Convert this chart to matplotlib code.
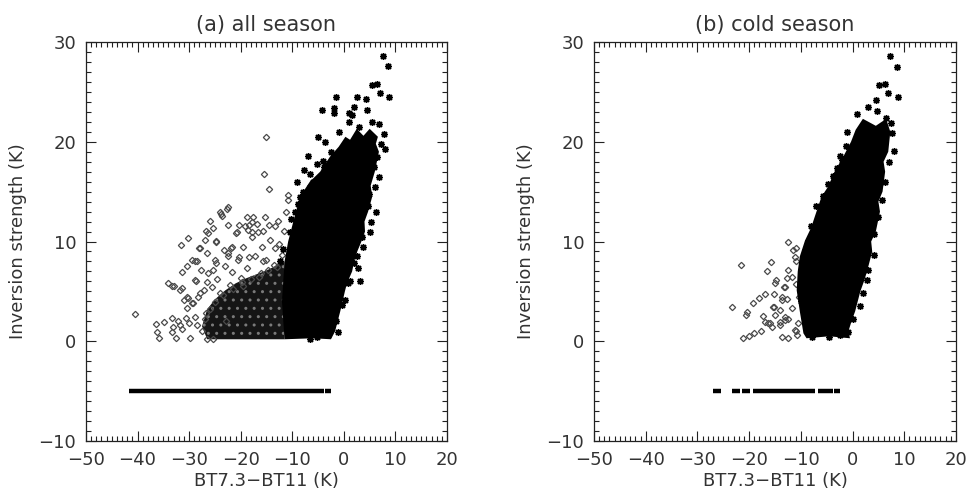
import matplotlib

matplotlib.use("Agg")

import matplotlib.pyplot as plt
from matplotlib.ticker import MultipleLocator


# -------------------------------------------------------------------------
# Data
# -------------------------------------------------------------------------

# (a) all season : open diamonds (sparse part, left)
a_diam_x = [
    -40.5, -36.4, -36.2, -35.8, -34.8, -33.4, -33.2, -33.4, -32.5, -32.1,
    -31.8, -31.4, -30.6, -30.0, -29.8, -30.4, -29.5, -30.2, -28.9, -28.5,
    -31.0, -30.2, -31.6, -29.5, -28.5, -31.4, -30.4, -34.0, -32.9, -28.7,
    -31.8, -15.0, -15.4, -14.6, -22.7, -24.0, -23.6, -26.0, -26.7, -25.3,
    -20.8, -19.2, -17.9, -18.8, -17.8, -15.7, -15.3, -14.5, -24.8, -23.2,
    -21.7, -28.0, -19.5, -15.9, -26.6, -24.7, -22.4, -20.3, -17.2, -15.0,
    -28.9, -25.3, -21.7, -18.8, -26.6, -31.4, -30.5, -29.2, -27.9, -33.3,
    -10.9, -10.8, -22.4, -23.8, -17.6, -18.4, -12.7, -11.3, -13.3, -22.4,
    -20.3, -18.5, -16.9, -21.0, -17.9, -16.6, -14.3, -11.7, -26.3, -26.9,
    -27.9, -24.7, -21.9, -13.4, -22.4, -25.0, -20.5, -18.3, -15.6, -28.9,
    -27.6, -26.3, -25.6, -27.2, -28.2, -26.5, -25.4, -27.5, -27.0, -26.0,
    -24.0, -22.0, -20.0, -16.0, -13.0, -12.0, -12.5, -24.5, -23.0, -19.5,
    -25.0, -23.5, -21.5, -19.8, -18.0, -16.5, -14.8, -13.5, -26.8, -22.8,
]
a_diam_y = [
    2.7, 1.7, 0.9, 0.3, 1.9, 2.3, 1.4, 0.9, 0.3, 2.0,
    1.6, 1.2, 2.3, 1.8, 0.3, 3.3, 3.8, 4.3, 2.4, 1.6,
    4.1, 10.4, 9.7, 8.1, 8.0, 6.9, 7.5, 5.8, 5.5, 6.0,
    5.1, 20.5, 16.8, 15.3, 13.3, 13.0, 12.6, 12.1, 11.1, 11.4,
    11.0, 11.6, 12.0, 12.5, 11.0, 11.1, 12.5, 11.7, 10.1, 9.1,
    9.5, 9.3, 9.5, 9.5, 8.8, 7.8, 8.5, 8.4, 8.5, 8.1,
    6.1, 7.1, 6.9, 7.3, 5.9, 5.3, 4.4, 3.8, 4.8, 5.5,
    14.7, 14.2, 13.5, 12.8, 12.5, 11.7, 12.1, 13.0, 11.6, 11.7,
    11.7, 11.2, 11.8, 10.9, 10.5, 11.0, 10.2, 11.1, 10.9, 10.2,
    9.3, 10.0, 9.3, 9.3, 8.8, 8.1, 8.1, 8.4, 8.0, 8.0,
    7.1, 6.8, 5.4, 5.1, 4.4, 0.2, 0.2, 1.0, 2.2, 3.2,
    4.8, 5.6, 6.3, 6.8, 7.4, 8.6, 9.8, 6.2, 7.5, 5.5,
    3.9, 4.6, 5.2, 5.9, 6.2, 6.4, 7.1, 7.6, 2.8, 2.0,
]

# (a) filled asterisks around the dense cloud
a_star_x = [
    7.5, 8.6, 5.4, 6.4, 7.0, 8.8, 2.5, 4.3, -1.6, -1.9,
    -1.9, -4.2, 0.9, 4.4, 0.9, -5.0, -3.7, 8.0, 7.7, -4.0,
    -3.8, -5.3, -7.7, -6.6, -5.9, -7.9, -8.5, 3.8, 2.5, 2.8,
    3.1, 0.2, -1.1, -6.6, 4.7, 6.0, 5.8, 6.9, 3.0, 5.5,
    -9.5, -10.5, 1.2, 5.3, 6.5, 2.0, -2.5, -1.0, -6.5, 7.2,
    6.8, 5.0, 3.6, 1.9, 0.8, -0.3, -1.5, -3.0, -5.2, -8.8,
    -10.2, -11.8, -12.4, -9.0, -7.0, 1.5, 4.0, 6.2, 4.9,
]
a_star_y = [
    28.6, 27.6, 25.7, 25.8, 24.9, 24.5, 24.5, 24.3, 24.5, 23.4,
    22.9, 23.2, 22.9, 23.2, 22.0, 20.5, 20.0, 19.3, 20.8, 18.1,
    17.5, 17.8, 17.2, 16.8, 16.0, 15.0, 14.5, 9.5, 8.5, 7.3,
    6.0, 4.1, 0.9, 0.2, 13.6, 15.5, 17.5, 21.8, 21.5, 22.0,
    13.0, 11.0, 6.0, 12.0, 18.5, 23.5, 19.0, 21.0, 15.5, 19.8,
    16.5, 11.0, 10.5, 7.8, 5.8, 3.6, 2.0, 0.6, 0.4, 13.8,
    12.3, 9.2, 8.0, 16.0, 18.6, 22.7, 20.3, 13.0, 14.8,
]

# (a) outline of the solid black core and of the mottled region
a_core_x = [-11.5, -6.0, -2.5, -1.7, -1.2, -0.7, 0.2, 0.6, 1.6, 2.0, 2.6, 3.4,
            4.1, 4.0, 4.7, 5.5, 5.2, 6.0, 6.8, 6.2, 6.6, 5.0, 3.8, 2.5, 1.2,
            0.3, -1.0, -2.7, -4.6, -6.6, -8.5, -9.8, -10.3, -10.8,
            -11.5, -12.0]
a_core_y = [0.2, 0.3, 0.2, 1.0, 2.0, 3.0, 5.0, 5.8, 7.0, 8.0, 9.0, 10.0,
            11.0, 12.0, 13.0, 14.5, 15.6, 17.0, 19.0, 19.8, 20.5, 21.3, 20.6, 21.3, 20.2,
            20.5, 19.5, 18.5, 17.0, 16.0, 14.5, 12.0, 11.0, 10.0,
            8.0, 4.0]
a_mix_x = [-26.5, -11.5, -11.5, -13.0, -15.0, -17.0, -19.0, -21.0, -23.0,
           -25.0, -26.5, -27.5]
a_mix_y = [0.2, 0.2, 8.0, 7.6, 7.1, 6.7, 6.3, 5.8, 5.1,
           4.2, 3.2, 1.5]

# (a) row of squares at -5 K (no inversion cases)
a_bar_start = [-41.6, -3.6]
a_bar_end = [-3.8, -2.5]

# (b) cold season : open diamonds
b_diam_x = [
    -21.6, -15.8, -16.6, -12.4, -23.4, -20.5, -20.6, -19.2, -18.0, -16.9,
    -21.1, -20.0, -19.1, -17.7, -17.3, -16.3, -15.6, -15.4, -15.0, -14.0,
    -13.7, -12.4, -14.8, -13.7, -13.1, -12.4, -11.8, -11.5, -11.0, -11.1,
    -13.1, -12.5, -11.1, -10.8, -11.7, -15.1, -15.0, -13.7, -13.3, -12.6,
    -10.9, -17.0, -16.0, -14.0, -13.1, -11.0, -10.5, -15.2, -14.0, -12.6,
    -10.3, -10.9,
]
b_diam_y = [
    7.6, 7.9, 7.0, 10.0, 3.4, 2.9, 2.6, 3.8, 4.3, 4.7,
    0.3, 0.5, 0.8, 1.0, 2.5, 1.8, 1.4, 3.4, 2.6, 1.9,
    0.4, 0.3, 6.1, 4.4, 5.4, 7.1, 6.4, 9.1, 9.3, 8.4,
    2.4, 2.2, 1.1, 0.6, 3.3, 4.7, 5.8, 4.1, 5.4, 6.3,
    8.0, 1.9, 1.8, 1.6, 2.1, 1.0, 1.8, 3.4, 3.1, 4.2,
    4.4, 5.7,
]

b_star_x = [
    7.2, 8.5, 5.2, 6.3, 6.9, 8.7, 4.6, 4.7, 0.8, 7.6,
    8.0, -2.4, -2.0, -3.7, -5.7, -6.2, 4.1, 3.0, 2.7, -0.8,
    -7.9, -8.6, -9.2, 5.0, 6.2, 3.0, -1.0, 1.5, -9.5, -4.5,
    -2.5, 7.0, 5.6, 4.2, 2.0, 0.0, -1.2, -3.0, -4.8, -7.0,
    -8.0, -10.0, -6.8, 6.5, 7.5,
]
b_star_y = [
    28.6, 27.5, 25.7, 25.8, 24.9, 24.5, 24.2, 23.1, 22.8, 20.9,
    19.1, 18.6, 18.2, 16.6, 14.6, 12.8, 10.8, 7.1, 6.1, 0.9,
    0.4, 10.0, 9.0, 12.5, 16.0, 23.5, 21.0, 3.5, 6.5, 0.4,
    0.6, 18.0, 14.2, 8.6, 4.8, 2.2, 19.6, 17.4, 15.8, 13.6,
    11.6, 4.0, 2.0, 22.4, 21.9,
]

b_core_x = [-8.9, -4.5, -0.5, -0.8, -0.2, 0.5, 1.0, 1.5, 2.2, 2.8, 3.8, 3.6,
            4.5, 5.3, 5.0, 5.8, 6.3, 6.0, 6.9, 7.3, 6.5, 4.5, 2.0, 0.6,
            -0.3, -1.8, -2.6, -3.7, -4.6, -6.0, -7.3, -8.0, -9.2, -10.2,
            -10.6, -10.8, -10.2, -9.5]
b_core_y = [0.3, 0.5, 0.3, 1.0, 2.0, 3.0, 4.0, 5.0, 6.0, 7.0, 9.0, 10.0,
            11.0, 13.0, 14.0, 15.0, 17.0, 18.0, 19.0, 21.0, 22.3, 21.6, 22.3, 21.2,
            20.0, 18.5, 17.8, 16.8, 15.6, 14.5, 12.5, 11.4, 10.1, 8.5,
            7.0, 5.1, 3.0, 0.8]

b_bar_start = [-27.0, -23.4, -21.3, -19.2, -6.6, -3.6]
b_bar_end = [-25.4, -21.8, -19.9, -7.3, -3.8, -2.4]

BAR_Y = -5.0

titles = ["(a) all season", "(b) cold season"]


# -------------------------------------------------------------------------
# Figure
# -------------------------------------------------------------------------

plt.rcParams["font.family"] = "DejaVu Sans"
plt.rcParams["hatch.linewidth"] = 1.0

fig = plt.figure(figsize=(9.68, 4.99), dpi=100)

ax_a = fig.add_axes([0.0888, 0.1162, 0.373, 0.7996])
ax_b = fig.add_axes([0.6136, 0.1162, 0.374, 0.7996])

panels = [
    (ax_a, a_mix_x, a_mix_y, a_core_x, a_core_y, a_diam_x, a_diam_y,
     a_star_x, a_star_y, a_bar_start, a_bar_end),
    (ax_b, None, None, b_core_x, b_core_y, b_diam_x, b_diam_y,
     b_star_x, b_star_y, b_bar_start, b_bar_end),
]

for k, (ax, mx, my, cx, cy, dx, dy, sx, sy, bs, be) in enumerate(panels):

    if mx is not None:
        # mottled black/grey zone, speckled with a hatch
        ax.fill(mx, my, facecolor="#151515", edgecolor="#7a7a7a",
                hatch="..", lw=0, zorder=1)

    ax.plot(
        dx, dy,
        "D",
        markersize=3.2,
        markerfacecolor="none",
        markeredgecolor="#4a4a4a",
        markeredgewidth=0.9,
        zorder=2,
    )

    ax.fill(cx, cy, color="black", lw=0, zorder=3)

    ax.plot(
        sx, sy,
        linestyle="none",
        marker=(8, 2, 0),
        markersize=5,
        markeredgecolor="black",
        markeredgewidth=1.0,
        zorder=4,
    )

    ax.hlines(
        [BAR_Y] * len(bs), bs, be,
        colors="black",
        linewidth=3.2,
        zorder=4,
    )

    ax.set_xlim(-50, 20)
    ax.set_ylim(-10, 30)

    ax.xaxis.set_major_locator(MultipleLocator(10))
    ax.xaxis.set_minor_locator(MultipleLocator(1))
    ax.yaxis.set_major_locator(MultipleLocator(10))
    ax.yaxis.set_minor_locator(MultipleLocator(1))

    ax.tick_params(which="both", direction="in", top=True, right=True,
                   color="#222222", width=0.8)
    ax.tick_params(which="major", length=7, labelsize=13, pad=7,
                   labelcolor="#333333")
    ax.tick_params(which="minor", length=3.5)

    for s in ax.spines.values():
        s.set_linewidth(0.9)
        s.set_color("#222222")

    ax.set_xlabel("BT7.3\u2212BT11 (K)", fontsize=13, color="#333333",
                  labelpad=2)
    ax.set_ylabel("Inversion strength (K)", fontsize=13, color="#333333",
                  labelpad=8)
    ax.set_title(titles[k], fontsize=15, color="#333333", pad=8)

fig.savefig("out.png", dpi=100)
